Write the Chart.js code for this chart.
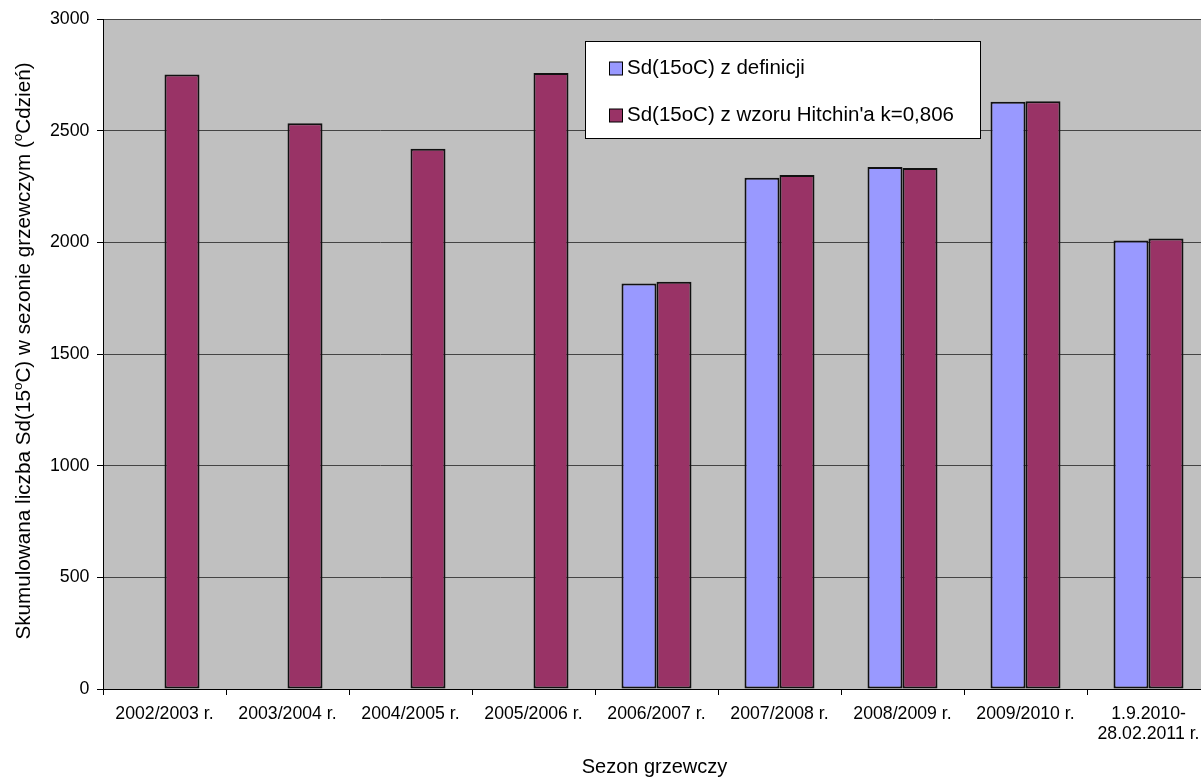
<!DOCTYPE html>
<html>
<head>
<meta charset="utf-8">
<script src="https://cdn.jsdelivr.net/npm/chart.js@4/dist/chart.umd.min.js"></script>
<style>
  html, body { margin: 0; padding: 0; background: #fff; overflow: hidden; }
  #wrap { width: 1201px; height: 778px; overflow: hidden; position: relative; }
  canvas { display: block; }
</style>
</head>
<body>
<div id="wrap"><canvas id="c" width="1220" height="778"></canvas></div>
<script>
// Heating seasons
const seasons = [
  '2002/2003 r.', '2003/2004 r.', '2004/2005 r.', '2005/2006 r.',
  '2006/2007 r.', '2007/2008 r.', '2008/2009 r.', '2009/2010 r.',
  ['1.9.2010-', '28.02.2011 r.']
];
// Degree-days from the definition (no data before 2006/2007)
const sdDefinition = [null, null, null, null, 1816, 2289, 2337, 2629, 2008];
// Degree-days from Hitchin's formula, k = 0.806
const sdHitchin = [2751, 2533, 2419, 2758, 1824, 2301, 2333, 2632, 2017];
const seriesNames = ['Sd(15oC) z definicji', "Sd(15oC) z wzoru Hitchin'a k=0,806"];
const yTicks = [0, 500, 1000, 1500, 2000, 2500, 3000];

const FONT = "'Liberation Sans', Arial, sans-serif";

// Grey plot background, legend box and axis titles
const decor = {
  id: 'decor',
  beforeDraw(chart) {
    const { ctx, chartArea: a } = chart;
    ctx.save();
    ctx.fillStyle = '#C0C0C0';
    ctx.fillRect(a.left, a.top, a.right - a.left, a.bottom - a.top);
    ctx.restore();
  },
  afterDraw(chart) {
    const { ctx, chartArea: a } = chart;
    ctx.save();
    // legend
    const lx = 585.5, ly = 41.5, lw = 395, lh = 97;
    ctx.fillStyle = '#fff';
    ctx.fillRect(lx, ly, lw, lh);
    ctx.strokeStyle = '#000';
    ctx.lineWidth = 1;
    ctx.strokeRect(lx, ly, lw, lh);
    const rows = [68.5, 115.5];
    chart.data.datasets.forEach((ds, i) => {
      const cy = rows[i];
      ctx.fillStyle = ds.backgroundColor;
      ctx.fillRect(609.5, cy - 6.5, 13, 13);
      ctx.strokeStyle = '#000';
      ctx.strokeRect(609.5, cy - 6.5, 13, 13);
      ctx.fillStyle = '#000';
      ctx.font = '20.5px ' + FONT;
      ctx.textBaseline = 'middle';
      ctx.textAlign = 'left';
      ctx.fillText(ds.label, 627, cy);
    });
    // x axis title
    ctx.fillStyle = '#000';
    ctx.font = '20px ' + FONT;
    ctx.textAlign = 'center';
    ctx.textBaseline = 'middle';
    ctx.fillText('Sezon grzewczy', (a.left + a.right) / 2 - 2, 767);
    // y axis title with superscripts
    const parts = [
      ['Skumulowana liczba Sd(15', false],
      ['o', true],
      ['C) w sezonie grzewczym (', false],
      ['o', true],
      ['Cdzień)', false]
    ];
    const big = '20.7px ' + FONT, small = '13.5px ' + FONT;
    let total = 0;
    parts.forEach(([t, sup]) => { ctx.font = sup ? small : big; total += ctx.measureText(t).width; });
    ctx.translate(29.5, (a.top + a.bottom) / 2 - 3);
    ctx.rotate(-Math.PI / 2);
    ctx.textAlign = 'left';
    ctx.textBaseline = 'alphabetic';
    let x = -total / 2;
    parts.forEach(([t, sup]) => {
      ctx.font = sup ? small : big;
      ctx.fillText(t, x, sup ? -8 : 0);
      x += ctx.measureText(t).width;
    });
    ctx.restore();
  }
};

new Chart(document.getElementById('c'), {
  type: 'bar',
  data: {
    labels: seasons,
    datasets: [
      { label: seriesNames[0], data: sdDefinition, backgroundColor: '#9999FF', borderColor: '#111', borderWidth: 2, borderSkipped: false },
      { label: seriesNames[1], data: sdHitchin, backgroundColor: '#993366', borderColor: '#111', borderWidth: 2, borderSkipped: false }
    ]
  },
  options: {
    responsive: false,
    animation: false,
    layout: { padding: { left: 0, top: 19, right: 10, bottom: 0 } },
    datasets: { bar: { categoryPercentage: 0.569, barPercentage: 1.0 } },
    plugins: { legend: { display: false }, tooltip: { enabled: false } },
    scales: {
      x: {
        offset: true,
        grid: { display: true, offset: true, drawOnChartArea: false, drawTicks: true, tickLength: 6, tickColor: '#000' },
        border: { color: '#000', width: 1 },
        ticks: { color: '#000', font: { family: FONT, size: 17.7, lineHeight: 1.13 }, padding: 9.5, maxRotation: 0, autoSkip: false },
        afterFit(scale) { scale.height = 89; }
      },
      y: {
        min: 0, max: 3000,
        afterBuildTicks(scale) { scale.ticks = yTicks.map(v => ({ value: v })); },
        grid: { color: '#444', lineWidth: 1, drawTicks: true, tickLength: 6, tickColor: '#000' },
        border: { color: '#000', width: 1 },
        ticks: { color: '#000', font: { family: FONT, size: 17.8 }, padding: 7.5, callback: v => String(v) },
        afterFit(scale) { scale.width = 103; }
      }
    }
  },
  plugins: [decor]
});
</script>
</body>
</html>
